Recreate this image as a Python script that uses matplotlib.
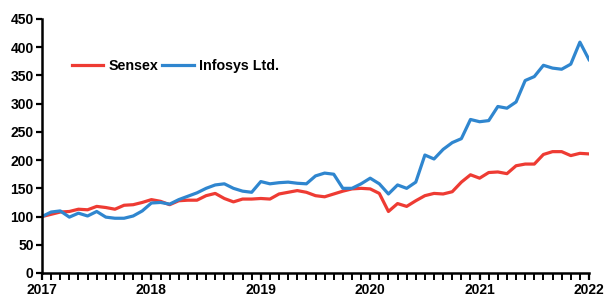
import numpy as np
import matplotlib
matplotlib.use('Agg')
import matplotlib.pyplot as plt

years = ['2017', '2018', '2019', '2020', '2021', '2022']

# monthly values, Jan 2017 .. Jan 2022 (rebased to 100)
sensex = [100, 104, 108, 109, 113, 112, 118, 116, 113, 120, 121, 125,
          130, 127, 121, 128, 129, 129, 137, 141, 132, 126, 131, 131,
          132, 131, 140, 143, 146, 143, 137, 135, 140, 145, 149, 150,
          149, 141, 109, 123, 118, 128, 137, 141, 140, 144, 161, 174,
          168, 178, 179, 176, 190, 193, 193, 210, 215, 215, 208, 212, 211]
infosys = [100, 108, 110, 99, 106, 101, 109, 99, 97, 97, 101, 110,
           124, 125, 122, 130, 136, 142, 150, 156, 158, 150, 145, 143,
           162, 158, 160, 161, 159, 158, 172, 177, 175, 150, 150, 158,
           168, 158, 140, 156, 150, 161, 209, 202, 219, 231, 238, 272,
           268, 270, 295, 292, 303, 341, 348, 368, 363, 361, 370, 409, 378]

RED = '#ee3b33'
BLUE = '#2f86cf'

plt.rcParams['font.family'] = 'Liberation Sans'
plt.rcParams['font.weight'] = 'bold'

fig = plt.figure(figsize=(6.05, 2.98), dpi=100)
ax = fig.add_axes([42 / 605, 25 / 298, 547 / 605, 254 / 298])

x = np.arange(len(sensex))
ax.plot(x, sensex, color=RED, lw=2.3, label='Sensex')
ax.plot(x, infosys, color=BLUE, lw=2.3, label='Infosys Ltd.')

ax.set_xlim(0, 60)
ax.set_ylim(0, 450)
ax.set_yticks(np.arange(0, 451, 50))
ax.set_xticks(np.arange(0, 61, 12))
ax.set_xticklabels(years)
ax.set_xticks(np.arange(0, 61, 1), minor=True)

for s in ['top', 'right']:
    ax.spines[s].set_visible(False)
for s in ['left', 'bottom']:
    ax.spines[s].set_linewidth(1.8)

ax.tick_params(axis='y', length=4, width=1.6, labelsize=10, pad=2)
ax.tick_params(axis='x', which='major', length=5, width=1.6, labelsize=10, pad=2)
ax.tick_params(axis='x', which='minor', length=5, width=1.4)
for lbl in ax.get_xticklabels() + ax.get_yticklabels():
    lbl.set_fontweight('bold')

ax.legend(loc='upper left', bbox_to_anchor=(0.031, 0.892), ncol=2, frameon=False,
          handlelength=2.2, handletextpad=0.35, columnspacing=0.3,
          prop={'weight': 'bold', 'size': 10.3})

fig.savefig('out.png', dpi=100)
